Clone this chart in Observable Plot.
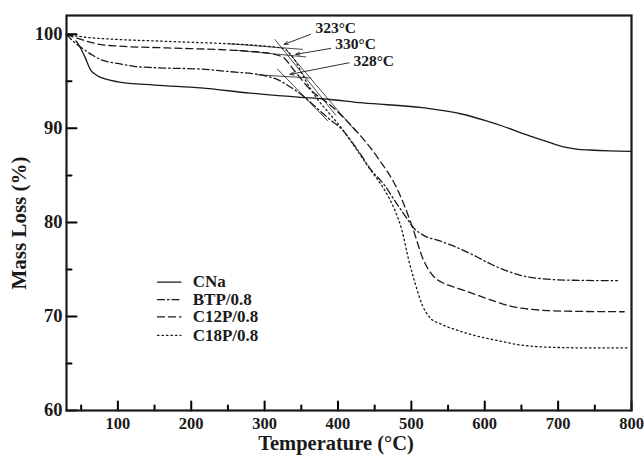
<!DOCTYPE html>
<html><head><meta charset="utf-8">
<script src="https://cdn.jsdelivr.net/npm/d3@7"></script>
<script src="https://cdn.jsdelivr.net/npm/@observablehq/plot@0.6"></script>
<style>body{margin:0;background:#fff} svg{display:block}</style>
</head><body><div id="chart"></div>
<script>
// ---- data ----
const seriesNames = ["CNa", "BTP/0.8", "C12P/0.8", "C18P/0.8"];

const cnaTemp = [43, 48, 55, 63, 72, 85, 100, 150, 213, 280, 349, 379, 434, 515, 570, 600, 624, 650, 669, 690, 706, 725, 743, 770, 800];
const cnaMass = [99.3, 98.7, 97.6, 96.2, 95.6, 95.2, 94.95, 94.6, 94.3, 93.75, 93.3, 93.15, 92.7, 92.2, 91.5, 90.85, 90.25, 89.5, 89.0, 88.45, 88.05, 87.8, 87.7, 87.6, 87.55];

const btpTemp = [30, 40, 50, 65, 77, 100, 122, 150, 213, 250, 300, 320, 335, 350, 365, 388, 404, 425, 445, 463, 480, 495, 501, 515, 540, 560, 585, 610, 630, 650, 680, 720, 781];
const btpMass = [100, 99.2, 98.6, 97.8, 97.3, 96.9, 96.6, 96.45, 96.3, 96.05, 95.6, 95.1, 94.4, 93.6, 92.6, 91.0, 90.0, 87.9, 85.6, 84.0, 82.0, 80.3, 79.6, 78.7, 78.0, 77.4, 76.5, 75.5, 74.85, 74.35, 74.0, 73.85, 73.8];

const c12pTemp = [30, 40, 50, 77, 100, 168, 258, 300, 324, 342, 360, 392, 424, 454, 481, 501, 517, 531, 545, 563, 585, 610, 635, 653, 680, 720, 790];
const c12pMass = [100, 99.7, 99.45, 98.9, 98.75, 98.55, 98.3, 98.05, 97.6, 96.0, 94.3, 92.3, 89.8, 86.9, 83.5, 79.6, 75.9, 74.2, 73.5, 73.0, 72.4, 71.7, 71.1, 70.85, 70.65, 70.55, 70.5];

const c18pTemp = [30, 50, 100, 150, 200, 250, 300, 325, 340, 355, 372, 388, 404, 425, 445, 463, 478, 487, 497, 506, 515, 525, 540, 560, 585, 620, 650, 700, 750, 795];
const c18pMass = [100, 99.75, 99.45, 99.3, 99.15, 99.0, 98.75, 98.5, 97.4, 95.2, 93.1, 91.6, 90.1, 87.8, 85.5, 83.5, 81.2, 79.2, 75.8, 73.3, 71.2, 69.9, 69.2, 68.6, 68.0, 67.4, 66.95, 66.7, 66.65, 66.65];

// onset tangent construction lines [temp, mass] pairs
const tangentLines = [
  [[314, 99.45], [397, 91.4]],
  [[331, 98.2], [424, 89.7]],
  [[317.5, 96.3], [386, 90.8]],
  [[250, 99.0], [351.5, 98.4]],
  [[260, 98.3], [356, 97.6]],
  [[290, 95.7], [363, 95.35]]
];

// onset annotations
const onsetLabels = ["323°C", "330°C", "328°C"];
const onsetPoints = [[326.5, 98.93], [342.4, 97.87], [334.6, 95.74]];

const xMajor = [100, 200, 300, 400, 500, 600, 700, 800];
const xMinor = [50, 150, 250, 350, 450, 550, 650, 750];
const yMajor = [60, 70, 80, 90, 100];
const yMinor = [65, 75, 85, 95];

// ---- layout / style constants ----
const W = 644, H = 455, mL = 66, mT = 15, mR = 13, mB = 45;
const xDomain = [30, 800], yDomain = [60, 102];
const frameW = W - mL - mR, frameH = H - mT - mB;
const pxX = (xDomain[1] - xDomain[0]) / frameW;  // data units per pixel
const pxY = (yDomain[1] - yDomain[0]) / frameH;
const dashes = ["none", "7,3,1.5,3", "7,4", "1.5,3"];
const arrowTails = [[362.8, 100.0], [390.1, 98.5], [415, 96.97]];
const labelPos = [[396.9, 100.66], [424, 98.93], [448.7, 97.16]];
const legendX1 = 154, legendX2 = 186, legendTextX = 202;
const legendY = [73.66, 71.78, 69.95, 67.99];

const temps = [cnaTemp, btpTemp, c12pTemp, c18pTemp];
const masses = [cnaMass, btpMass, c12pMass, c18pMass];

const font = "'Liberation Serif', 'Times New Roman', serif";
const ink = "#1a1a1a";

const lineMarks = seriesNames.map((name, i) =>
  Plot.line(temps[i].map((t, j) => ({t, m: masses[i][j]})), {
    x: "t", y: "m", curve: "monotone-x",
    stroke: ink, strokeWidth: 1.3, strokeDasharray: dashes[i]
  })
);

const tangentMarks = tangentLines.map(seg =>
  Plot.line(seg, {x: d => d[0], y: d => d[1], stroke: ink, strokeWidth: 0.8})
);

const legendRows = seriesNames.map((name, i) => ({name, i}));

// inward tick marks as two-point segments (length given in pixels)
const tickSegs = [];
xMajor.forEach((t, k) => tickSegs.push({id: "xM" + k, x: t, y: yDomain[0]}, {id: "xM" + k, x: t, y: yDomain[0] + 9 * pxY}));
xMinor.forEach((t, k) => tickSegs.push({id: "xm" + k, x: t, y: yDomain[0]}, {id: "xm" + k, x: t, y: yDomain[0] + 5 * pxY}));
yMajor.forEach((v, k) => tickSegs.push({id: "yM" + k, x: xDomain[0], y: v}, {id: "yM" + k, x: xDomain[0] + 10 * pxX, y: v}));
yMinor.forEach((v, k) => tickSegs.push({id: "ym" + k, x: xDomain[0], y: v}, {id: "ym" + k, x: xDomain[0] + 5 * pxX, y: v}));

const plot = Plot.plot({
  width: W,
  height: H,
  marginLeft: mL,
  marginTop: mT,
  marginRight: mR,
  marginBottom: mB,
  style: {fontFamily: font, fontWeight: "bold", color: ink, background: "#fff"},
  x: {domain: xDomain},
  y: {domain: yDomain},
  marks: [
    ...tangentMarks,
    ...lineMarks,
    // onset arrows
    Plot.arrow(onsetPoints.map((p, i) => ({x1: arrowTails[i][0], y1: arrowTails[i][1], x2: p[0], y2: p[1]})), {
      x1: "x1", y1: "y1", x2: "x2", y2: "y2", stroke: ink, strokeWidth: 0.9, headLength: 7, headAngle: 40
    }),
    Plot.text(onsetLabels.map((s, i) => ({s, x: labelPos[i][0], y: labelPos[i][1]})), {
      x: "x", y: "y", text: "s", fontSize: 15.5, fill: ink, fontWeight: "bold"
    }),
    // legend
    ...legendRows.map(r =>
      Plot.line([[legendX1, legendY[r.i]], [legendX2, legendY[r.i]]], {
        x: d => d[0], y: d => d[1], stroke: ink, strokeWidth: 1.3, strokeDasharray: dashes[r.i]
      })
    ),
    Plot.text(legendRows, {x: () => legendTextX, y: r => legendY[r.i], text: "name", textAnchor: "start", fontSize: 17, fill: ink, fontWeight: "bold"}),
    // inward ticks
    Plot.line(tickSegs, {x: "x", y: "y", z: "id", stroke: "#000", strokeWidth: 2, curve: "linear"}),
    // tick labels
    Plot.axisX({ticks: xMajor, tickSize: 0, tickPadding: 7, fontSize: 16.5, tickFormat: d => d, label: null}),
    Plot.axisY({ticks: yMajor, tickSize: 0, tickPadding: 4, fontSize: 18.5, tickFormat: d => d, label: null}),
    // axis titles
    Plot.text(["Temperature (°C)"], {frameAnchor: "bottom", lineAnchor: "middle", textAnchor: "middle", dy: 33, dx: -13, fontSize: 20.5, fill: ink, fontWeight: "bold"}),
    Plot.text(["Mass Loss (%)"], {frameAnchor: "left", lineAnchor: "middle", textAnchor: "middle", dx: -47, dy: 10, rotate: -90, fontSize: 21, fill: ink, fontWeight: "bold"}),
    Plot.frame({stroke: ink, strokeWidth: 2.2})
  ]
});
document.getElementById("chart").append(plot);
</script>
</body></html>
